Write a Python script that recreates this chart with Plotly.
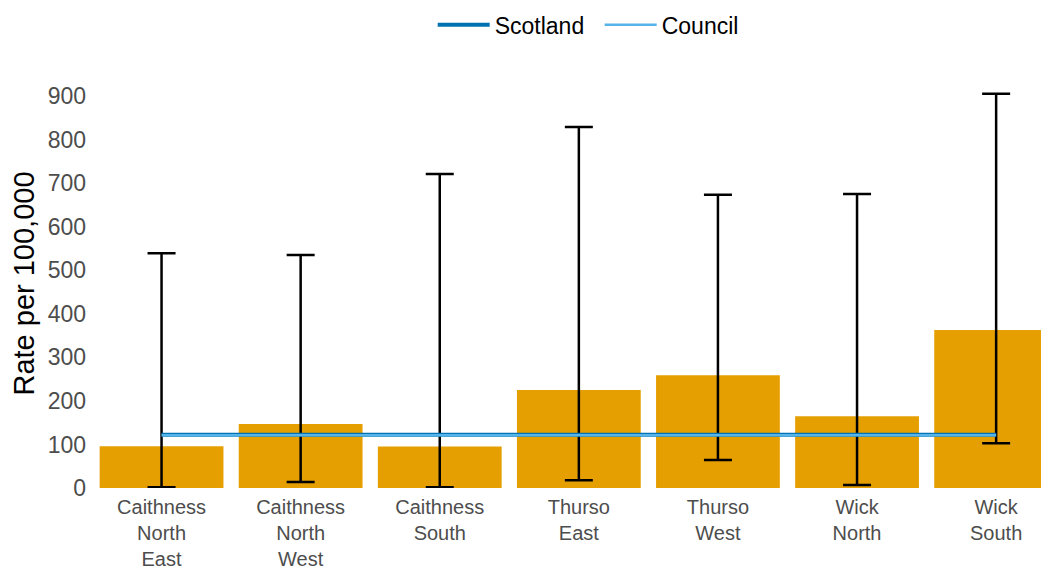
import plotly.graph_objects as go

# Intermediate zones and rates per 100,000
zonas = ["Caithness<br>North<br>East", "Caithness<br>North<br>West", "Caithness<br>South",
         "Thurso<br>East", "Thurso<br>West", "Wick<br>North", "Wick<br>South"]
taxa = [96, 147, 95, 225, 259, 165, 363]
limite_inf = [2, 14, 2, 18, 64, 7, 103]
limite_sup = [539, 535, 721, 829, 673, 675, 905]
taxa_escocia = [122] * len(zonas)
taxa_conselho = [121] * len(zonas)

erro_mais = [s - t for s, t in zip(limite_sup, taxa)]
erro_menos = [t - i for t, i in zip(taxa, limite_inf)]

fig = go.Figure()

fig.add_trace(go.Bar(
    x=zonas, y=taxa, width=0.89,
    marker=dict(color="#E69F00", line=dict(width=0)),
    error_y=dict(type="data", symmetric=False, array=erro_mais, arrayminus=erro_menos,
                 color="black", thickness=2.5, width=14),
    showlegend=False, hoverinfo="x+y",
))

fig.add_trace(go.Scatter(
    x=zonas, y=taxa_escocia, mode="lines", name="Scotland",
    line=dict(color="#0072B2", width=4),
))
fig.add_trace(go.Scatter(
    x=zonas, y=taxa_conselho, mode="lines", name="Council",
    line=dict(color="#56B4E9", width=2.5),
))

# a página tem margem de 8px, por isso a figura é um pouco menor
fig.update_layout(
    width=1041, height=564,
    margin=dict(l=84, r=0, t=71, b=84),
    plot_bgcolor="white", paper_bgcolor="white",
    font=dict(family="Liberation Sans, Arial, sans-serif", size=21, color="#4d4d4d"),
    legend=dict(orientation="h", yref="container", y=0.97, yanchor="middle",
                x=0.356, xanchor="left", itemwidth=52, entrywidth=100,
                font=dict(size=23, color="black"), bgcolor="rgba(0,0,0,0)"),
    bargap=0.11,
)
fig.update_xaxes(range=[-0.5, 6.38], showgrid=False, showline=False, ticks="",
                 automargin=False, ticklabelstandoff=5, tickfont=dict(size=20, color="#4d4d4d"))
fig.update_yaxes(range=[0, 939], tickvals=[0, 100, 200, 300, 400, 500, 600, 700, 800, 900],
                 showgrid=False, zeroline=False, showline=False, ticks="",
                 automargin=False, ticklabelstandoff=5, tickfont=dict(size=23, color="#4d4d4d"),
                 title=dict(text="Rate per 100,000", font=dict(size=29, color="black"), standoff=8))

fig.write_html("out.html")
